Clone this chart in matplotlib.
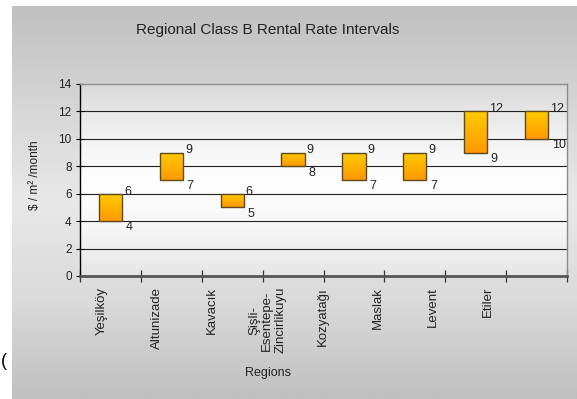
import numpy as np
import matplotlib
matplotlib.use("Agg")
import matplotlib.pyplot as plt
from matplotlib.colors import LinearSegmentedColormap

plt.rcParams['font.family'] = ['Liberation Sans', 'DejaVu Sans']

# data
regions = ['Yeşilköy', 'Altunizade', 'Kavacık', 'Şişli-\nEsentepe-\nZincirlikuyu',
           'Kozyatağı', 'Maslak', 'Levent', 'Etiler']
low = [4, 7, 5, 8, 7, 7, 9, 10]
high = [6, 9, 6, 9, 9, 9, 12, 12]
yticks = [0, 2, 4, 6, 8, 10, 12, 14]

W, H = 577, 399
fig = plt.figure(figsize=(W / 100, H / 100), dpi=100)
fig.patch.set_facecolor('white')

# grey slide panel behind the chart
bg = fig.add_axes([12 / W, 0, 1 - 12 / W, (H - 6) / H], zorder=0)
panel_cmap = LinearSegmentedColormap.from_list(
    'panel', ['#c0c0c0', '#d6d6d6', '#e8e8e8', '#dadada', '#c0c0c0'])
bg.imshow(np.linspace(0, 1, 256).reshape(-1, 1), cmap=panel_cmap,
          aspect='auto', extent=[0, 1, 0, 1], origin='upper')
bg.set_axis_off()

ax = fig.add_axes([80 / W, (H - 276) / H, 487 / W, 192 / H], zorder=1)
ax.patch.set_alpha(0)
area_cmap = LinearSegmentedColormap.from_list(
    'area', ['#d9d9d9', '#f0f0f0', '#ffffff', '#f6f6f6', '#e6e6e6'])
ax.imshow(np.linspace(0, 1, 256).reshape(-1, 1), cmap=area_cmap, aspect='auto',
          extent=[0, 1, 0, 1], transform=ax.transAxes, origin='upper', zorder=0)

x = np.arange(len(regions))
heights = [h - l for h, l in zip(high, low)]
bw = 0.38
bars = ax.bar(x, heights, bottom=low, width=bw, facecolor='none',
              edgecolor='#5e4a1c', linewidth=1.0, zorder=3)

bar_cmap = LinearSegmentedColormap.from_list('bar', ['#ffcc00', '#ff9900'])
for r in bars:
    bx, by, bwid, bht = r.get_x(), r.get_y(), r.get_width(), r.get_height()
    im = ax.imshow(np.linspace(0, 1, 64).reshape(-1, 1), cmap=bar_cmap, aspect='auto',
                   extent=[bx, bx + bwid, by, by + bht], origin='upper', zorder=2)
    im.set_clip_path(r)

for i in range(len(regions)):
    ax.annotate(str(high[i]), xy=(x[i] + bw / 2, high[i]), xytext=(1.5, 1.5),
                textcoords='offset points', ha='left', va='center',
                fontsize=9, color='#222222')
    ax.annotate(str(low[i]), xy=(x[i] + bw / 2, low[i]), xytext=(2.5, -4.5),
                textcoords='offset points', ha='left', va='center',
                fontsize=9, color='#222222')

ax.set_xlim(-0.5, len(regions) - 0.5)
ax.set_ylim(0, 14)

for v in yticks[1:-1]:
    ax.axhline(v, color='#202020', linewidth=0.8, zorder=1)

ax.set_yticks(yticks)
ax.tick_params(axis='y', direction='inout', length=6, width=0.8, color='black',
               labelsize=8.5, labelcolor='#222222', pad=3)

# category labels sit a bit left of the bars in the original
label_pos = -0.14 + 0.906 * x
ax.set_xticks(label_pos)
ax.set_xticklabels(regions, rotation=90, fontsize=9.5, color='#222222',
                   ha='center', va='top', multialignment='center', linespacing=1.15)
ax.tick_params(axis='x', which='major', length=0, pad=8)
ax.set_xticks(np.arange(-0.5, len(regions)), minor=True)
ax.tick_params(axis='x', which='minor', direction='inout', length=9, width=0.9,
               color='#333333')

ax.spines['left'].set_color('black')
ax.spines['left'].set_linewidth(1.0)
ax.spines['bottom'].set_color('#555555')
ax.spines['bottom'].set_linewidth(2.0)
for s in ['top', 'right']:
    ax.spines[s].set_color('#8c8c8c')
    ax.spines[s].set_linewidth(1.0)

fig.text(268 / W, 1 - 30 / H, 'Regional Class B Rental Rate Intervals',
         ha='center', va='center', fontsize=11, color='#222222')
fig.text(35 / W, 1 - 175 / H, '$ / m² /month', rotation=90,
         ha='center', va='center', fontsize=8.5, color='#222222')
fig.text(268 / W, 1 - 373 / H, 'Regions', ha='center', va='center',
         fontsize=9, color='#222222')
fig.text(1 / W, 1 - 362 / H, '(', ha='left', va='center', fontsize=13, color='black')

fig.savefig('out.png', dpi=100)
